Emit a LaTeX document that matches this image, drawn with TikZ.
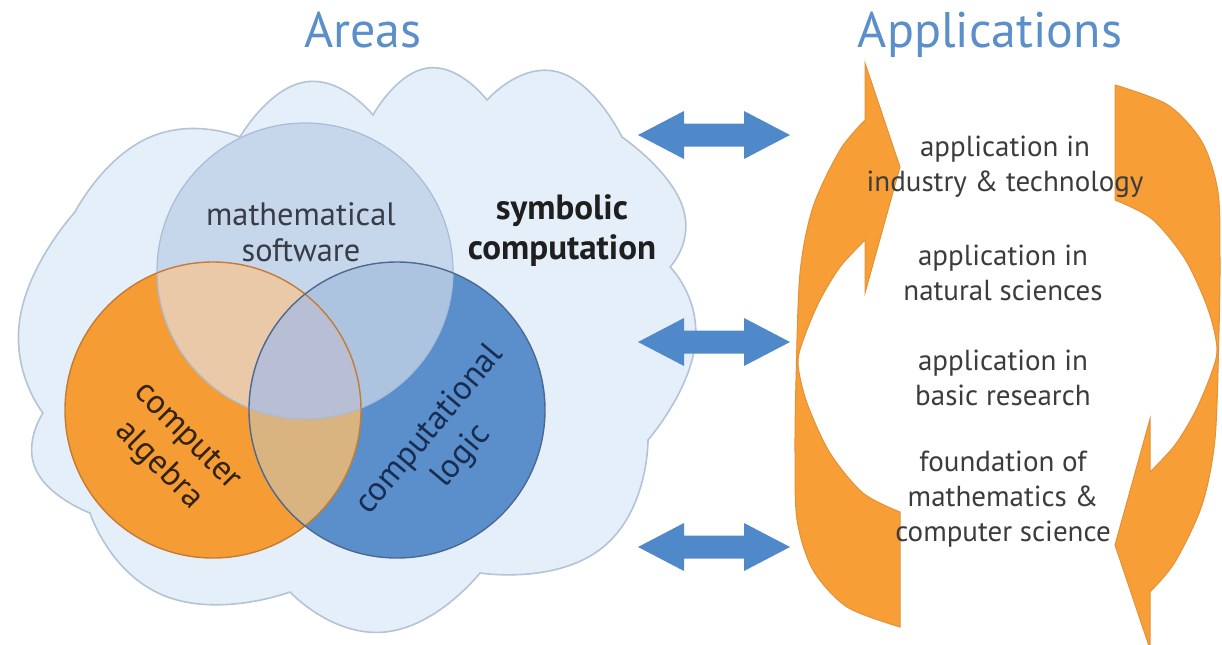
\documentclass[tikz,border=0pt]{standalone}
\usepackage{fontspec}
\setmainfont{PT Sans}
\definecolor{titleblue}{RGB}{91,143,201}
\definecolor{cloudfill}{RGB}{229,239,249}
\definecolor{cloudline}{RGB}{180,196,214}
\definecolor{orfill}{RGB}{245,156,52}
\definecolor{orline}{RGB}{196,124,52}
\definecolor{blfill}{RGB}{90,143,204}
\definecolor{blline}{RGB}{75,105,145}
\definecolor{msfill}{RGB}{199,215,235}
\definecolor{msline}{RGB}{168,188,214}
\definecolor{omcol}{RGB}{233,201,168}
\definecolor{bmcol}{RGB}{172,196,224}
\definecolor{obcol}{RGB}{217,180,128}
\definecolor{obmcol}{RGB}{184,190,212}
\definecolor{arrblue}{RGB}{80,137,201}
\definecolor{arrorange}{RGB}{247,158,54}
\definecolor{arrorline}{RGB}{226,146,56}
\definecolor{txtgray}{RGB}{60,60,60}
\definecolor{txtms}{RGB}{55,60,70}
\definecolor{txtca}{RGB}{50,35,20}
\definecolor{txtcl}{RGB}{25,45,80}
\begin{document}
\begin{tikzpicture}[x=0.5pt,y=-0.5pt,
  titletext/.style={font=\fontsize{25}{30}\selectfont, text=titleblue, inner sep=0pt},
  areatext/.style={font=\fontsize{16.2}{17.8}\selectfont, align=center, inner sep=0pt},
  rottext/.style={font=\fontsize{17}{20.5}\selectfont, align=center, inner sep=0pt},
  apptext/.style={font=\fontsize{14.5}{17.4}\selectfont, align=center, text=txtgray, inner sep=0pt},
  boldtext/.style={font=\fontsize{17.5}{20}\selectfont\bfseries, align=center, text=black!88, inner sep=0pt},
  dblarrow/.style={fill=arrblue},
  orangearrow/.style={fill=arrorange, draw=arrorline, line width=0.5pt, line join=miter},
  lobe/.style={smooth, tension=1}
]
\useasboundingbox (0,0) rectangle (1222,644);
\clip (0,0) rectangle (1222,644);
\fill[white] (0,0) rectangle (1222,644);

% cloud
\path[draw=cloudline, fill=cloudfill, line width=0.8pt] (240,137)
  -- plot[lobe] coordinates {(240,137) (305,82) (373,115)}
  -- plot[lobe] coordinates {(373,115) (428,68) (487,100)}
  -- plot[lobe] coordinates {(487,100) (558,72) (622,137)}
  -- plot[lobe] coordinates {(622,137) (682,205) (670,267)}
  -- plot[lobe] coordinates {(670,267) (695,345) (648,440)}
  -- plot[lobe] coordinates {(648,440) (602,548) (480,573)}
  -- plot[lobe] coordinates {(480,573) (385,632) (290,592)}
  -- plot[lobe] coordinates {(290,592) (165,596) (90,513)}
  -- plot[lobe] coordinates {(90,513) (36,470) (43,413)}
  -- plot[lobe] coordinates {(43,413) (20,318) (75,212)}
  -- plot[lobe] coordinates {(75,212) (148,138) (240,137)}
  -- cycle;

% Venn circles
\coordinate (cO) at (213,410);
\coordinate (cB) at (397,410);
\coordinate (cM) at (305,271);
\def\R{74pt}
\fill[orfill] (cO) circle[radius=\R];
\fill[blfill] (cB) circle[radius=\R];
\fill[msfill] (cM) circle[radius=\R];
\begin{scope}\clip (cO) circle[radius=\R]; \fill[omcol] (cM) circle[radius=\R];\end{scope}
\begin{scope}\clip (cB) circle[radius=\R]; \fill[bmcol] (cM) circle[radius=\R];\end{scope}
\begin{scope}\clip (cO) circle[radius=\R]; \fill[obcol] (cB) circle[radius=\R];\end{scope}
\begin{scope}\clip (cO) circle[radius=\R]; \clip (cB) circle[radius=\R]; \fill[obmcol] (cM) circle[radius=\R];\end{scope}
\draw[msline, line width=0.6pt] (cM) circle[radius=\R];
\draw[orline, line width=0.7pt] (cO) circle[radius=\R];
\draw[blline, line width=0.7pt] (cB) circle[radius=\R];

% texts left
\node[titletext, anchor=base] (areas) at (363,47) {Areas};
\node[areatext, text=txtms] (ms) at (301,232) {mathematical\\software};
\node[boldtext] (sc) at (562,231) {symbolic\\computation};
\node[rottext, text=txtca, rotate=-45] (ca) at (172,452) {computer\\algebra};
\node[rottext, text=txtcl, rotate=50] (cl) at (446,443) {computational\\logic};

% double arrows
\foreach \c/\n in {135/1,342/2,547/3}{
  \coordinate (dl\n) at (638,\c);
  \coordinate (dr\n) at (790,\c);
  \fill[dblarrow] (dl\n) -- (684,\c-24) -- (684,\c-11.5) -- (744,\c-11.5) -- (744,\c-24)
    -- (dr\n) -- (744,\c+24) -- (744,\c+11.5) -- (684,\c+11.5) -- (684,\c+24) -- cycle;
}

% orange circular arrows
\foreach \ang in {0,180}{
\begin{scope}[rotate around={\ang:(1007.5,356)}]
\path[orangearrow] (900,512) -- (900,627)
  -- plot[smooth] coordinates {(900,627) (847,607) (813,570) (797,520) (795,453) (796,380) (800,273) (813,207) (840,150) (865,120)}
  -- (865,63) -- (900,167) -- (865,293) -- (865,240)
  -- plot[smooth] coordinates {(865,240) (840,267) (820,300) (805,335) (798,363) (807,403) (830,453) (863,493) (900,512)}
  -- cycle;
\end{scope}
}

% texts right
\node[titletext, anchor=base] (apps) at (990,47) {Applications};
\node[apptext] (a1) at (1005,167) {application in\\industry \& technology};
\node[apptext] (a2) at (1003,273) {application in\\natural sciences};
\node[apptext] (a3) at (1003,378) {application in\\basic research};
\node[apptext] (a4) at (1003,499) {foundation of\\mathematics \&\\computer science};
\end{tikzpicture}
\end{document}
